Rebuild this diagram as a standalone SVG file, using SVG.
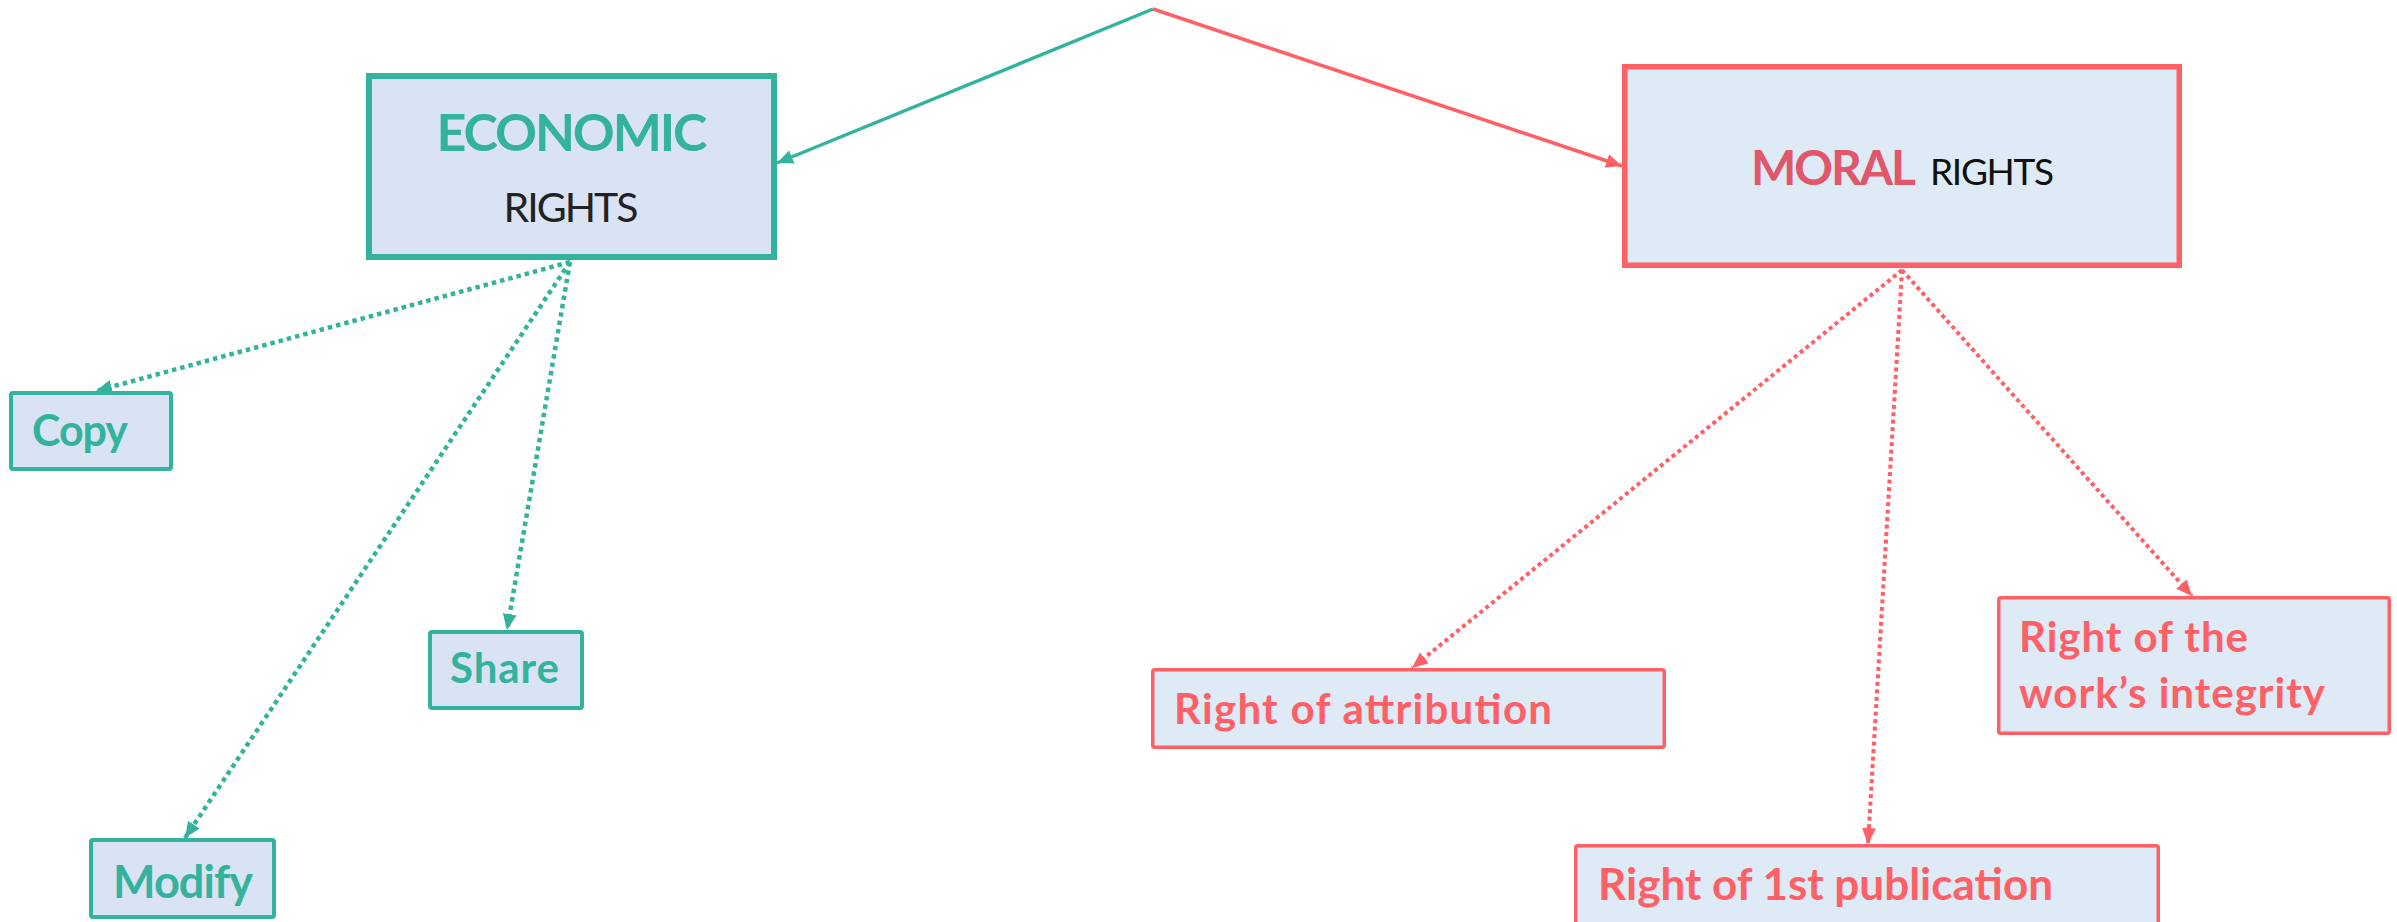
<svg xmlns="http://www.w3.org/2000/svg" width="2397" height="922" viewBox="0 0 2397 922">
  <style>
    .eco-box { fill: #DAE3F3; stroke: #33B39D; }
    .mor-box { fill: #DEEAF6; stroke: #FF6066; }
    .t { font-family: Lato, "Open Sans", "Liberation Sans", sans-serif; }
    .eco-t { fill: #33B39D; font-weight: 700; }
    .mor-t { fill: #FF6066; font-weight: 700; }
    .dark { fill: #222222; font-weight: 400; }
    .eco-line { stroke: #33B39D; fill: none; }
    .mor-line { stroke: #FF6066; fill: none; }
    .dots-eco { stroke-width: 4.5; stroke-dasharray: 4.5 4; }
    .dots-mor { stroke-width: 4; stroke-dasharray: 4 3.5; }
  </style>
  <defs>
    <marker id="arr-eco" markerUnits="userSpaceOnUse" markerWidth="18" markerHeight="14" refX="16" refY="7" orient="auto">
      <path d="M0,0 L16,7 L0,14 Z" fill="#33B39D"/>
    </marker>
    <marker id="arr-mor" markerUnits="userSpaceOnUse" markerWidth="18" markerHeight="14" refX="16" refY="7" orient="auto">
      <path d="M0,0 L16,7 L0,14 Z" fill="#FF6066"/>
    </marker>
  </defs>

  <rect width="2397" height="922" fill="#FFFFFF"/>

  <g id="connectors">
    <line class="eco-line" x1="1153" y1="9" x2="777" y2="163" stroke-width="3.5" marker-end="url(#arr-eco)"/>
    <line class="mor-line" x1="1153" y1="9" x2="1622" y2="166" stroke-width="3.5" marker-end="url(#arr-mor)"/>

    <line class="eco-line dots-eco" x1="570" y1="262" x2="96" y2="391" marker-end="url(#arr-eco)"/>
    <line class="eco-line dots-eco" x1="570" y1="262" x2="507" y2="630" marker-end="url(#arr-eco)"/>
    <line class="eco-line dots-eco" x1="570" y1="262" x2="185" y2="838" marker-end="url(#arr-eco)"/>

    <line class="mor-line dots-mor" x1="1902" y1="270" x2="1412" y2="668" marker-end="url(#arr-mor)"/>
    <line class="mor-line dots-mor" x1="1902" y1="270" x2="1868" y2="844" marker-end="url(#arr-mor)"/>
    <line class="mor-line dots-mor" x1="1902" y1="270" x2="2192" y2="596" marker-end="url(#arr-mor)"/>
  </g>

  <g id="economic-rights">
    <rect class="eco-box" x="369" y="76" width="405" height="181" stroke-width="6"/>
    <text class="t eco-t" x="572" y="151" font-size="52" text-anchor="middle" textLength="271">ECONOMIC</text>
    <text class="t dark" x="571" y="222" font-size="41" text-anchor="middle" textLength="135">RIGHTS</text>
  </g>

  <g id="moral-rights">
    <rect class="mor-box" x="1624.75" y="66.75" width="554.5" height="198.5" stroke-width="5.5"/>
    <text class="t" x="1751" y="185">
      <tspan font-size="48" font-weight="700" fill="#E0566A" textLength="165">MORAL</tspan>
      <tspan x="1930" font-size="37" font-weight="400" fill="#111111" textLength="124">RIGHTS</tspan>
    </text>
  </g>

  <g id="copy">
    <rect class="eco-box" x="11" y="393" width="160" height="76" rx="2" stroke-width="4"/>
    <text class="t eco-t" x="32" y="446" font-size="43" textLength="96">Copy</text>
  </g>

  <g id="share">
    <rect class="eco-box" x="430" y="632" width="152" height="76" rx="2" stroke-width="4"/>
    <text class="t eco-t" x="450" y="683" font-size="42" textLength="109">Share</text>
  </g>

  <g id="modify">
    <rect class="eco-box" x="91" y="840" width="183" height="77" rx="2" stroke-width="4"/>
    <text class="t eco-t" x="113" y="898" font-size="45" textLength="140">Modify</text>
  </g>

  <g id="attribution">
    <rect class="mor-box" x="1152.75" y="669.75" width="511.5" height="77.5" rx="2" stroke-width="3.5"/>
    <text class="t mor-t" x="1174" y="724" font-size="42" textLength="378">Right of attribution</text>
  </g>

  <g id="first-publication">
    <rect class="mor-box" x="1575.75" y="845.75" width="582.5" height="90" rx="2" stroke-width="3.5"/>
    <text class="t mor-t" x="1598" y="900" font-size="44" textLength="455">Right of 1st publication</text>
  </g>

  <g id="integrity">
    <rect class="mor-box" x="1998.75" y="597.75" width="390.5" height="135.5" rx="2" stroke-width="3.5"/>
    <text class="t mor-t" font-size="42">
      <tspan x="2019" y="652" textLength="229">Right of the</tspan>
      <tspan x="2019" y="708" textLength="306">work’s integrity</tspan>
    </text>
  </g>
</svg>
